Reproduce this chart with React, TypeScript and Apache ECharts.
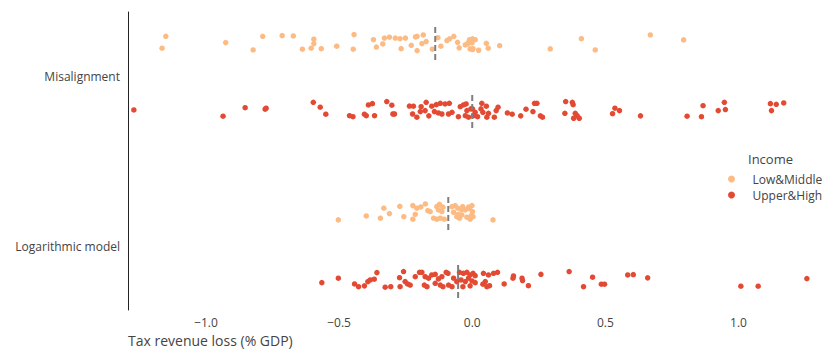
import React, { useEffect, useRef } from "react";
import * as echarts from "echarts";

// Categories (y) and groups (colour)
const categoryNames = ["Logarithmic model", "Misalignment"];
const groupNames = ["Low&Middle", "Upper&High"];
const groupColors = ["#fdbb84", "#e34a33"];
const xTickValues = [-1.0, -0.5, 0.0, 0.5, 1.0];
const xTitle = "Tax revenue loss (% GDP)";
const legendTitle = "Income";

// Misalignment – Low&Middle
const misLowX = [-1.151, -1.165, -0.926, -0.823, -0.787, -0.714, -0.672, -0.638, -0.595, -0.595, -0.605, -0.567, -0.509, -0.444, -0.447, -0.371, -0.36, -0.336, -0.33, -0.311, -0.289, -0.271, -0.251, -0.267, -0.229, -0.213, -0.207, -0.184, -0.189, -0.173, -0.207, -0.15, -0.129, -0.118, -0.095, -0.085, -0.069, -0.055, -0.049, -0.026, -0.018, -0.01, 0.001, 0.011, -0.008, 0.001, 0.024, 0.053, 0.06, 0.103, 0.293, 0.41, 0.462, 0.669, 0.794, -0.014, -0.001, 0.003];
const misLowJ = [0.039, -0.031, 0.002, -0.041, 0.039, 0.043, 0.041, -0.037, 0.022, -0.004, -0.031, -0.034, -0.019, 0.049, -0.037, 0.019, -0.024, -0.006, 0.029, 0.034, 0.029, 0.025, 0.029, -0.034, -0.014, 0.035, 0.039, 0.047, -0.004, 0.008, -0.045, -0.037, 0.031, -0.019, 0.014, 0.024, 0.039, 0.004, -0.029, -0.012, -0.006, 0.019, 0.024, 0.019, -0.035, -0.039, -0.043, -0.002, -0.031, -0.016, -0.035, 0.025, -0.041, 0.047, 0.018, 0.004, 0.0, -0.034];

// Misalignment – Upper&High
const misHighX = [-1.271, -0.936, -0.853, -0.778, -0.774, -0.597, -0.571, -0.55, -0.461, -0.448, -0.405, -0.398, -0.39, -0.375, -0.367, -0.321, -0.302, -0.298, -0.292, -0.236, -0.221, -0.224, -0.208, -0.192, -0.173, -0.195, -0.177, -0.163, -0.152, -0.135, -0.12, -0.142, -0.127, -0.102, -0.086, -0.114, -0.089, -0.076, -0.052, -0.045, -0.033, -0.026, -0.014, -0.02, -0.005, -0.023, 0.001, 0.011, 0.005, 0.02, 0.036, 0.033, 0.04, 0.053, 0.061, 0.055, 0.083, 0.09, 0.097, 0.132, 0.15, 0.182, 0.202, 0.228, 0.234, 0.243, 0.256, 0.264, 0.351, 0.348, 0.376, 0.379, 0.387, 0.394, 0.381, 0.402, 0.527, 0.536, 0.553, 0.632, 0.807, 0.861, 0.867, 0.924, 0.947, 0.951, 1.12, 1.142, 1.17, 1.124];
const misHighJ = [0.006, -0.031, 0.019, 0.01, 0.016, 0.051, 0.022, -0.019, -0.028, -0.034, -0.019, -0.028, 0.035, 0.043, -0.028, 0.055, 0.034, -0.018, -0.018, 0.029, 0.028, -0.018, -0.037, 0.025, 0.051, -0.004, 0.002, -0.029, 0.028, 0.037, 0.045, -0.004, -0.012, 0.041, 0.045, -0.018, -0.018, -0.008, -0.034, 0.025, 0.035, -0.028, -0.037, 0.002, 0.012, 0.041, 0.012, -0.008, -0.028, -0.034, 0.045, 0.012, -0.008, 0.028, -0.014, -0.037, -0.037, 0.002, 0.022, -0.012, -0.019, -0.029, 0.01, -0.004, 0.045, 0.045, -0.029, -0.037, 0.055, -0.014, 0.051, 0.037, -0.014, -0.028, -0.043, -0.043, -0.016, 0.016, 0.002, -0.029, -0.031, -0.034, 0.031, 0.002, 0.051, 0.008, 0.043, 0.039, 0.047, 0.002];

// Logarithmic model – Low&Middle
const logLowX = [-0.503, -0.398, -0.345, -0.332, -0.311, -0.272, -0.257, -0.223, -0.208, -0.193, -0.176, -0.214, -0.223, -0.167, -0.158, -0.133, -0.123, -0.11, -0.127, -0.114, -0.145, -0.133, -0.12, -0.105, -0.076, -0.064, -0.054, -0.07, -0.058, -0.048, -0.036, -0.026, -0.014, -0.001, 0.001, 0.003, -0.039, -0.02, -0.008, 0.078, -0.052, -0.04, -0.011, -0.003];
const logLowJ = [-0.041, -0.018, -0.031, 0.028, -0.004, 0.039, -0.022, 0.043, 0.028, 0.035, 0.053, -0.008, -0.037, 0.014, 0.008, 0.037, 0.051, 0.034, 0.018, 0.008, -0.031, -0.037, -0.031, -0.037, 0.037, 0.043, 0.028, 0.004, -0.022, -0.031, 0.037, 0.018, 0.034, 0.043, 0.008, -0.022, -0.012, -0.025, -0.037, -0.041, -0.008, 0.02, 0.026, -0.014];

// Logarithmic model – Upper&High
const logHighX = [-0.565, -0.503, -0.442, -0.427, -0.405, -0.392, -0.383, -0.368, -0.358, -0.327, -0.306, -0.271, -0.273, -0.258, -0.252, -0.243, -0.233, -0.214, -0.198, -0.189, -0.177, -0.164, -0.152, -0.139, -0.18, -0.17, -0.127, -0.114, -0.098, -0.091, -0.139, -0.12, -0.11, -0.089, -0.076, -0.07, -0.058, -0.048, -0.033, -0.02, -0.008, 0.003, 0.011, -0.042, -0.026, -0.014, -0.001, 0.011, -0.035, -0.008, 0.042, 0.061, 0.08, 0.095, 0.04, 0.055, 0.049, 0.065, 0.12, 0.153, 0.155, 0.187, 0.189, 0.211, 0.258, 0.364, 0.418, 0.452, 0.485, 0.497, 0.584, 0.605, 0.659, 1.009, 1.074, 1.257];
const logHighJ = [-0.01, 0.016, -0.018, -0.034, -0.029, -0.004, 0.006, 0.01, 0.049, -0.037, -0.034, -0.034, 0.019, 0.055, -0.004, -0.018, -0.024, 0.025, 0.051, 0.051, 0.025, 0.016, 0.035, 0.039, -0.024, -0.034, 0.012, 0.025, 0.051, 0.045, -0.014, -0.024, -0.034, -0.024, -0.034, 0.016, -0.004, 0.051, 0.045, 0.051, 0.035, 0.045, 0.031, 0.006, -0.004, 0.016, 0.0, -0.01, -0.034, -0.029, 0.045, 0.035, 0.045, 0.051, -0.019, -0.034, -0.004, -0.028, -0.018, 0.016, 0.029, 0.016, 0.002, -0.028, 0.039, 0.055, -0.034, 0.022, -0.019, -0.019, 0.035, 0.037, 0.018, -0.031, -0.031, 0.014];

// Medians (dashed lines) per category/group
const medianMisalignment = [-0.139, 0.0];
const medianLogarithmic = [-0.09, -0.053];

const FONT = "'Open Sans', 'DejaVu Sans', sans-serif";

export default function App() {
  const ref = useRef<HTMLDivElement>(null);

  useEffect(() => {
    if (!ref.current) return;
    const chart = echarts.init(ref.current, undefined, { renderer: "svg" });

    const groupOffset = [0.2, -0.2];
    const blocks = [
      { cat: 1, sets: [[misLowX, misLowJ], [misHighX, misHighJ]], med: medianMisalignment },
      { cat: 0, sets: [[logLowX, logLowJ], [logHighX, logHighJ]], med: medianLogarithmic },
    ];

    const series: any[] = [];
    blocks.forEach((b) => {
      b.sets.forEach(([xs, js], g) => {
        series.push({
          type: "scatter",
          name: groupNames[g],
          symbol: "circle",
          symbolSize: 5.5,
          itemStyle: { color: groupColors[g], opacity: 1 },
          z: 2,
          data: xs.map((x, i) => [x, b.cat + groupOffset[g] + js[i]]),
        });
      });
      b.med.forEach((m, g) => {
        const c = b.cat + groupOffset[g];
        series.push({
          type: "line",
          name: "median",
          symbol: "none",
          silent: true,
          z: 5,
          lineStyle: { color: "#7f7f7f", width: 2, type: [6, 3] },
          data: [
            [m, c - 0.1],
            [m, c + 0.1],
          ],
        });
      });
    });

    chart.setOption({
      animation: false,
      backgroundColor: "#ffffff",
      textStyle: { fontFamily: FONT },
      grid: { left: 128, right: 17, top: 12, bottom: 50, containLabel: false, outerBoundsMode: "none" },
      xAxis: {
        type: "value",
        min: -1.293,
        max: 1.28,
        axisLine: { show: false, onZero: false },
        axisTick: { show: false },
        splitLine: { show: false },
        axisLabel: {
          customValues: xTickValues,
          color: "#444",
          fontSize: 12,
          fontFamily: FONT,
          margin: 6,
          formatter: (v: number) => (v < 0 ? "\u2212" : "") + Math.abs(v).toFixed(1),
        },
      },
      yAxis: {
        type: "value",
        min: -0.371,
        max: 1.382,
        axisLine: { show: true, onZero: false, lineStyle: { color: "#222", width: 1 } },
        axisTick: { show: false },
        splitLine: { show: false },
        axisLabel: {
          customValues: [0, 1],
          color: "#444",
          fontSize: 12,
          fontFamily: FONT,
          margin: 8,
          formatter: (v: number) => categoryNames[Math.round(v)] ?? "",
        },
      },
      legend: {
        data: groupNames,
        orient: "vertical",
        left: 723,
        top: 168,
        icon: "circle",
        itemWidth: 32,
        itemHeight: 7,
        itemGap: 4,
        textStyle: { color: "#444", fontSize: 12, fontFamily: FONT },
      },
      graphic: [
        {
          type: "text",
          left: 748,
          top: 152,
          style: { text: legendTitle, fill: "#444", font: `13px ${FONT}` },
        },
        {
          type: "text",
          left: 128,
          top: 333,
          style: { text: xTitle, fill: "#444", font: `14px ${FONT}` },
        },
      ],
      series,
    });

    return () => chart.dispose();
  }, []);

  return (
    <div
      ref={ref}
      style={{ position: "absolute", left: 0, top: 0, width: 830, height: 360 }}
    />
  );
}
